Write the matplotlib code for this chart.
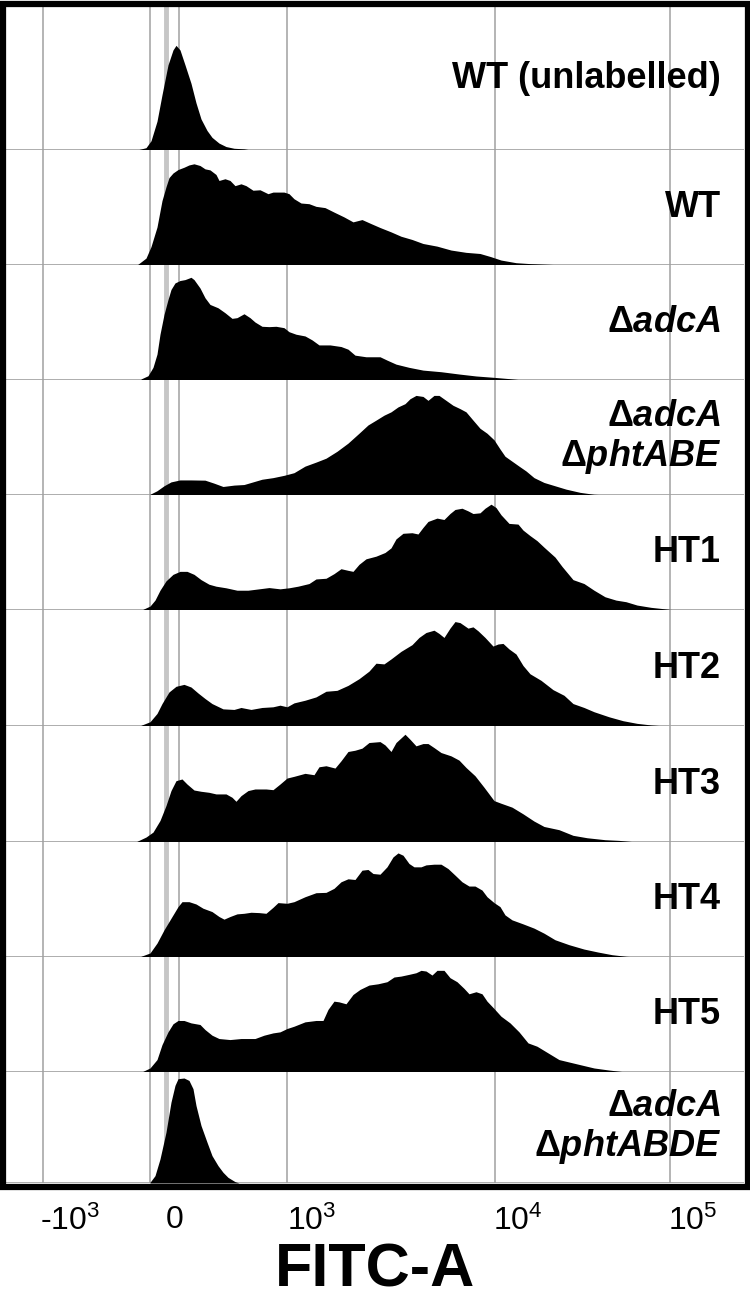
import matplotlib
matplotlib.use("Agg")
import matplotlib.pyplot as plt
from matplotlib.patches import Rectangle

plt.rcParams["font.family"] = ["Liberation Sans", "DejaVu Sans"]
plt.rcParams["mathtext.fontset"] = "custom"
plt.rcParams["mathtext.rm"] = "Liberation Sans"
plt.rcParams["mathtext.it"] = "Liberation Sans:italic:bold"
plt.rcParams["mathtext.bf"] = "Liberation Sans:bold"

# FITC-A histograms, x = display channel, y = % of panel height
wtu_x = [137, 146, 151, 157, 162, 168, 173, 176, 180, 185, 191, 196, 201, 207, 212, 219, 226, 234, 244, 251]
wtu_y = [0, 2, 8, 25, 48, 74, 87, 91, 87, 74, 58, 41, 27, 17, 11, 6, 3, 1.5, 1, 0]

wt_x = [137, 146, 151, 157, 162, 166, 169, 173, 178, 184, 189, 194, 200, 205, 210, 216, 219, 225, 230, 235,
        241, 246, 253, 260, 268, 273, 284, 289, 294, 301, 309, 316, 325, 334, 344, 353, 362, 371, 380, 391,
        401, 412, 423, 437, 451, 466, 480, 491, 501, 516, 530, 548, 566]
wt_y = [0, 6, 16, 33, 56, 68, 76, 80, 83, 85, 87, 88, 86.5, 83.6, 82.7, 78.7, 73.5, 75, 73.5, 69,
        70.6, 69, 65, 65.4, 62, 63.4, 63.4, 62, 57.6, 53.9, 53.3, 51, 49.9, 46, 41.8, 37.5, 39.5, 36, 32.6, 28.8,
        25, 22.2, 18.7, 16.4, 13, 11, 10, 7.2, 4.3, 2, 1.2, 0.6, 0]

adca_x = [141, 148, 153, 157, 160, 164, 168, 171, 175, 180, 185, 191, 194, 200, 205, 210, 218, 225, 232, 237,
          244, 250, 255, 262, 269, 276, 284, 289, 296, 305, 312, 319, 330, 341, 348, 355, 366, 380, 387, 396,
          409, 423, 441, 459, 476, 494, 509, 523]
adca_y = [0.9, 3.7, 11, 22.5, 39.8, 57, 70, 78.7, 84.4, 86.5, 87.3, 89.3, 87.3, 80, 71.5, 65.7, 62.8, 58.5, 53.6, 54.2,
          57.6, 54.2, 50.4, 46.7, 46.4, 46.7, 45.5, 42, 39.8, 38.3, 34.9, 30.5, 30.5, 29.1, 26.8, 21.6, 20.2, 20.2, 17.3, 13.8,
          11, 8.6, 7.2, 5.2, 3.5, 2.3, 1.2, 0]

abe_x = [150, 157, 164, 171, 180, 191, 205, 214, 223, 234, 244, 253, 262, 273, 284, 294, 305, 316, 326, 337,
         348, 359, 368, 376, 384, 391, 398, 405, 410, 416, 423, 428, 434, 439, 446, 453, 460, 466, 473, 480,
         487, 494, 500, 505, 512, 519, 526, 534, 544, 555, 566, 580, 594, 609]
abe_y = [0.6, 3.7, 8, 11.4, 13.1, 13.1, 12.9, 10.3, 7.4, 8.6, 9.1, 11.4, 13.7, 15.1, 17.1, 19.4, 25.1, 28.6, 32, 38,
         45.1, 53.7, 60.9, 65.1, 69.4, 72.3, 76.6, 79.4, 83.7, 86.6, 85.7, 82.3, 86.6, 86.6, 82.3, 78, 75.1, 72.3, 65.1, 58,
         53.7, 48, 40, 33.7, 29.4, 25.1, 20.9, 15.1, 10.9, 8, 5.1, 2.3, 0.6, 0]

ht1_x = [143, 150, 155, 160, 166, 173, 180, 187, 194, 201, 209, 216, 226, 237, 248, 259, 269, 280, 289, 298,
         309, 316, 326, 334, 341, 348, 353, 359, 366, 376, 385, 391, 396, 403, 412, 418, 423, 428, 437, 444,
         450, 455, 462, 468, 473, 480, 485, 491, 496, 501, 509, 518, 523, 530, 537, 544, 555, 562, 573, 584,
         594, 605, 616, 626, 637, 651, 666, 676]
ht1_y = [0.6, 3.4, 8.6, 17.2, 25.3, 31, 33.6, 33.6, 31, 26.4, 22.4, 20.7, 19.3, 17.2, 17.2, 18.4, 19.5, 18.4, 19.3, 20.7,
         23, 27, 27.6, 31.6, 35.9, 34.5, 33.6, 39.7, 44.5, 46.8, 50, 54, 61.8, 66.7, 67.2, 66.1, 71.8, 77, 79.9, 78.7,
         83.9, 87.4, 88.5, 86.2, 83.9, 84.5, 88.5, 92, 89.1, 82.8, 75.3, 74.7, 69.5, 64.7, 60.3, 54.6, 46, 37.9, 26.4, 23,
         17.2, 11.5, 8.6, 7.2, 4.3, 2.3, 0.9, 0]

ht2_x = [141, 150, 157, 162, 169, 176, 184, 191, 198, 205, 212, 223, 234, 241, 251, 262, 273, 280, 287, 294,
         305, 316, 326, 337, 348, 359, 369, 376, 384, 391, 401, 412, 419, 426, 434, 439, 444, 450, 455, 460,
         468, 473, 478, 485, 493, 498, 503, 509, 516, 523, 530, 541, 553, 564, 573, 584, 594, 609, 623, 637,
         651, 666]
ht2_y = [0.6, 3.7, 10.9, 19.5, 29.6, 34.5, 36.2, 33.9, 28.7, 23.9, 19.5, 14.9, 14.4, 16.1, 14.4, 16.1, 16.7, 18.1, 16.7, 20.1,
         22.4, 25.3, 30.2, 31, 35.3, 41.1, 47.7, 54.6, 54, 58.3, 64.9, 70.7, 77, 81.3, 83.3, 80.5, 77, 85.1, 90.8, 89.9,
         85.1, 86.2, 82.8, 77, 69.5, 71.3, 71.8, 67, 62.6, 52.6, 45.4, 39.7, 31.6, 26.7, 19.5, 16.1, 12.4, 8, 4.6, 2.3,
         0.9, 0]

ht3_x = [137, 146, 153, 160, 166, 171, 176, 182, 187, 194, 201, 209, 216, 226, 232, 236, 241, 248, 255, 266,
         273, 280, 287, 294, 305, 314, 319, 326, 335, 341, 348, 355, 362, 369, 380, 385, 391, 396, 405, 410,
         416, 423, 428, 434, 441, 451, 459, 466, 475, 484, 494, 501, 512, 523, 534, 544, 559, 573, 587, 605,
         619, 637]
ht3_y = [0.6, 4.3, 8.6, 18.7, 31.7, 44.7, 53.3, 54.8, 50.4, 45.2, 44.1, 43.2, 41.8, 41.8, 38.9, 35.4, 40.3, 44.7, 46.1, 46.1,
         45.5, 50.4, 55.6, 57.1, 59.7, 58.5, 65.4, 66.3, 64.3, 70.6, 78.7, 79.8, 81.6, 86.5, 87.3, 84.4, 78.7, 86.5, 93.7, 89.3,
         83.6, 85.6, 85.6, 82.1, 77.8, 74.9, 71.2, 64.8, 57.6, 47.6, 36, 33.7, 30.3, 24.5, 18.2, 13.5, 10.7, 5.8, 3.7, 2,
         1.4, 0]

ht4_x = [141, 150, 157, 164, 171, 178, 182, 189, 196, 203, 212, 219, 224, 230, 237, 244, 251, 259, 266, 273,
         278, 287, 294, 305, 316, 326, 334, 341, 348, 355, 362, 368, 373, 380, 387, 393, 398, 403, 409, 414,
         421, 426, 434, 441, 448, 455, 462, 469, 475, 482, 487, 494, 500, 505, 512, 523, 534, 544, 555, 569,
         584, 598, 612, 626, 637]
ht4_y = [0.6, 3.5, 12.1, 23.6, 33.7, 43.8, 48.1, 48.1, 46.1, 42.4, 39.5, 35.2, 32.9, 35.2, 37.5, 38, 38.9, 38.6, 38, 43.2,
         47.3, 46.7, 48.1, 52.4, 55.9, 56.2, 59.7, 65.4, 68, 67.4, 75.5, 76.1, 72.6, 72, 78.4, 87, 90.5, 88.5, 81.3, 78.4,
         78.4, 80.1, 80.7, 80.7, 76.9, 71.2, 65.4, 61.7, 61.7, 58.2, 52.4, 47.3, 43.8, 36.6, 32.3, 28.8, 25.1, 20.7, 15, 10.7,
         6.9, 4.3, 2, 0.6, 0]

ht5_x = [143, 150, 157, 162, 168, 173, 178, 184, 191, 200, 205, 212, 219, 230, 241, 255, 264, 273, 280, 287,
         294, 305, 316, 323, 328, 334, 339, 346, 353, 360, 369, 378, 387, 394, 401, 409, 416, 421, 426, 432,
         437, 444, 450, 457, 464, 469, 476, 482, 487, 494, 501, 510, 519, 528, 537, 548, 559, 569, 580, 594,
         609, 626]
ht5_y = [0.6, 3.5, 10.8, 23.8, 34.9, 41.9, 44.8, 44.8, 42.7, 41.3, 36.9, 32, 29.1, 28.2, 29.1, 29.1, 32, 34, 34.9, 37.8,
         39.8, 43.6, 44.8, 44.8, 54.4, 61.6, 61, 59.3, 67.4, 71.8, 75.6, 76.7, 78.5, 82.6, 83.4, 84.9, 86.3, 88.4, 87.8, 84.3,
         88.4, 88.4, 82, 78.5, 72.7, 68, 69.8, 68, 61.6, 55.2, 48.5, 42.7, 34.9, 25.3, 22.4, 16.6, 10.8, 8.7, 6.4, 3.5,
         1.7, 0]

abde_x = [150, 155, 160, 166, 171, 175, 178, 184, 189, 193, 196, 201, 207, 212, 218, 223, 228, 235, 239]
abde_y = [0.6, 6.4, 20.9, 44.2, 70.3, 84.9, 90.7, 91.3, 89.2, 82, 67.4, 50, 35.5, 23.8, 15.1, 9.3, 4.9, 1.2, 0]

labels = [
    "WT (unlabelled)",
    "WT",
    r"$\mathregular{\Delta}\mathit{adcA}$",
    "$\\mathregular{\\Delta}\\mathit{adcA}$\n$\\mathregular{\\Delta}\\mathit{phtABE}$",
    "HT1", "HT2", "HT3", "HT4", "HT5",
    "$\\mathregular{\\Delta}\\mathit{adcA}$\n$\\mathregular{\\Delta}\\mathit{phtABDE}$",
]
series = [(wtu_x, wtu_y), (wt_x, wt_y), (adca_x, adca_y), (abe_x, abe_y), (ht1_x, ht1_y),
          (ht2_x, ht2_y), (ht3_x, ht3_y), (ht4_x, ht4_y), (ht5_x, ht5_y), (abde_x, abde_y)]

tick_pos = [40, 166, 287, 493, 668]
tick_labels = [r"-$\mathregular{10^{3}}$", "0", r"$\mathregular{10^{3}}$",
               r"$\mathregular{10^{4}}$", r"$\mathregular{10^{5}}$"]
grid_pos = [43, 150, 179, 287, 495, 670]

W, H = 750, 1304
edges = [7, 150, 265, 380, 495, 610, 726, 842, 957, 1072, 1183]
x0, x1 = 6, 744

fig = plt.figure(figsize=(W / 100, H / 100), dpi=100)

for i, ((xs, ys), lab) in enumerate(zip(series, labels)):
    top, bot = edges[i], edges[i + 1]
    ax = fig.add_axes([x0 / W, 1 - bot / H, (x1 - x0) / W, (bot - top) / H])
    ax.set_xlim(x0, x1)
    ax.set_ylim(0, 100 * (bot - top) / 115)
    for g in grid_pos:
        ax.axvline(g, color="#a8a8a8", lw=1.2, zorder=1)
    ax.axvline(166, color="#c6c6c6", lw=3.5, zorder=1)
    ax.axhline(0, color="#a0a0a0", lw=1.2, zorder=1)
    ax.fill_between(xs, ys, 0, color="black", lw=0, zorder=2)
    ax.text(0.969, 0.5, lab, transform=ax.transAxes, ha="right", va="center",
            ma="right", fontsize=26, fontweight="bold", linespacing=1.1, zorder=3)
    for s in ax.spines.values():
        s.set_visible(False)
    ax.set_yticks([])
    if i == len(series) - 1:
        ax.set_xticks(tick_pos, tick_labels)
        ax.tick_params(axis="x", length=0, pad=16, labelsize=23)
        for t in ax.get_xticklabels():
            t.set_horizontalalignment("left")
        ax.set_xlabel("FITC-A", fontsize=44, fontweight="bold", labelpad=4)
    else:
        ax.set_xticks([])

fig.add_artist(Rectangle((2.5 / W, 1 - 1187 / H), 745 / W, 1183 / H, transform=fig.transFigure,
                         fill=False, ec="black", lw=4.5))

fig.savefig("out.png", dpi=100)
